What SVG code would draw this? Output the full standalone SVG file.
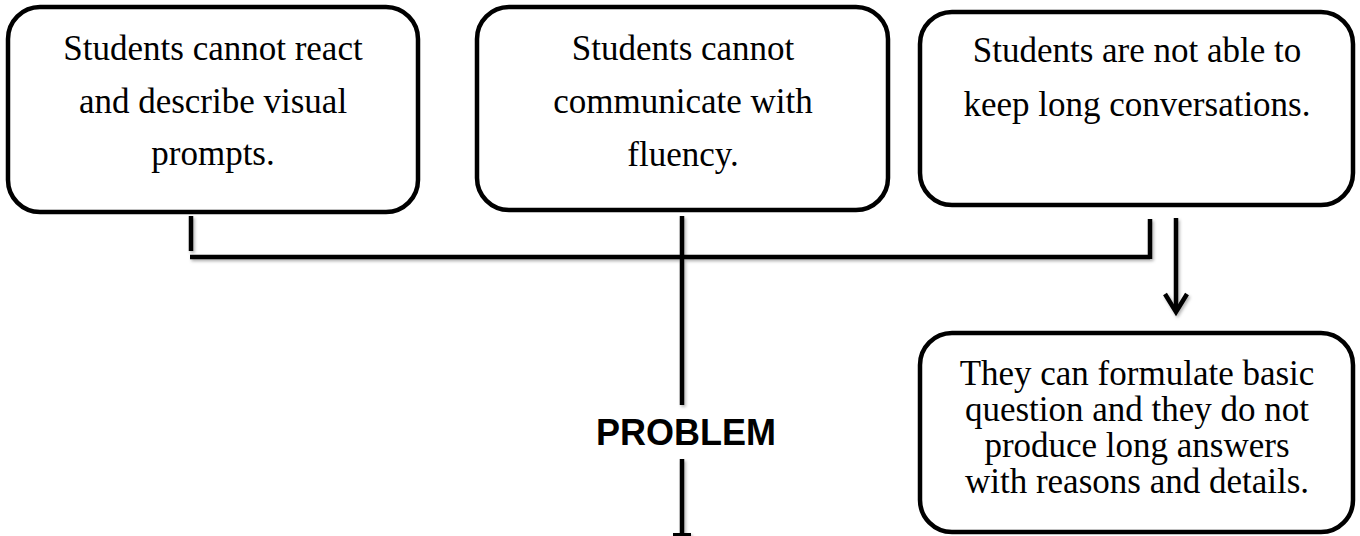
<svg xmlns="http://www.w3.org/2000/svg" width="1360" height="536" viewBox="0 0 1360 536">
<defs>
<style>
.box{fill:#fff;stroke:#000;stroke-width:4.5}
.t{font-family:"Liberation Serif","Times New Roman",serif;font-size:35px;fill:#000;text-anchor:middle}
.ln{fill:none;stroke:#000;stroke-width:4.5}
.lbl{font-family:"Liberation Sans",Arial,sans-serif;font-size:36px;font-weight:bold;fill:#000;text-anchor:middle}
</style>
<filter id="sh" x="-20%" y="-20%" width="140%" height="140%">
<feDropShadow dx="1.5" dy="2" stdDeviation="1.5" flood-color="#000" flood-opacity="0.3"/>
</filter>
</defs>
<rect width="1360" height="536" fill="#fff"/>
<g id="connectors" filter="url(#sh)">
<line class="ln" x1="191" y1="216" x2="191" y2="251"/>
<line class="ln" x1="190" y1="257" x2="1150" y2="257"/>
<line class="ln" x1="1150" y1="219" x2="1150" y2="259"/>
<line class="ln" x1="682" y1="216" x2="682" y2="405"/>
<line class="ln" x1="682" y1="459" x2="682" y2="534"/>
<line x1="673" y1="534.5" x2="691" y2="534.5" stroke="#000" stroke-width="3"/>
<line class="ln" x1="1176" y1="218" x2="1176" y2="310"/>
<path class="ln" d="M1165,294 L1176,312 L1187,294" stroke-linejoin="miter"/>
</g>
<g id="node1">
<rect class="box" x="8" y="7" width="410" height="205" rx="32"/>
<text class="t" x="213" y="60">Students cannot react</text>
<text class="t" x="213" y="113">and describe visual</text>
<text class="t" x="213" y="165">prompts.</text>
</g>
<g id="node2">
<rect class="box" x="477" y="7" width="411" height="203" rx="32"/>
<text class="t" x="683" y="60">Students cannot</text>
<text class="t" x="683" y="113">communicate with</text>
<text class="t" x="683" y="166">fluency.</text>
</g>
<g id="node3">
<rect class="box" x="920" y="12" width="433" height="193" rx="32"/>
<text class="t" x="1137" y="62">Students are not able to</text>
<text class="t" x="1137" y="116">keep long conversations.</text>
</g>
<g id="node4">
<rect class="box" x="920" y="333" width="433" height="199" rx="32"/>
<text class="t" x="1137" y="385">They can formulate basic</text>
<text class="t" x="1137" y="421">question and they do not</text>
<text class="t" x="1137" y="457">produce long answers</text>
<text class="t" x="1137" y="493">with reasons and details.</text>
</g>
<g id="problem">
<text class="lbl" x="686" y="445">PROBLEM</text>
</g>
</svg>
